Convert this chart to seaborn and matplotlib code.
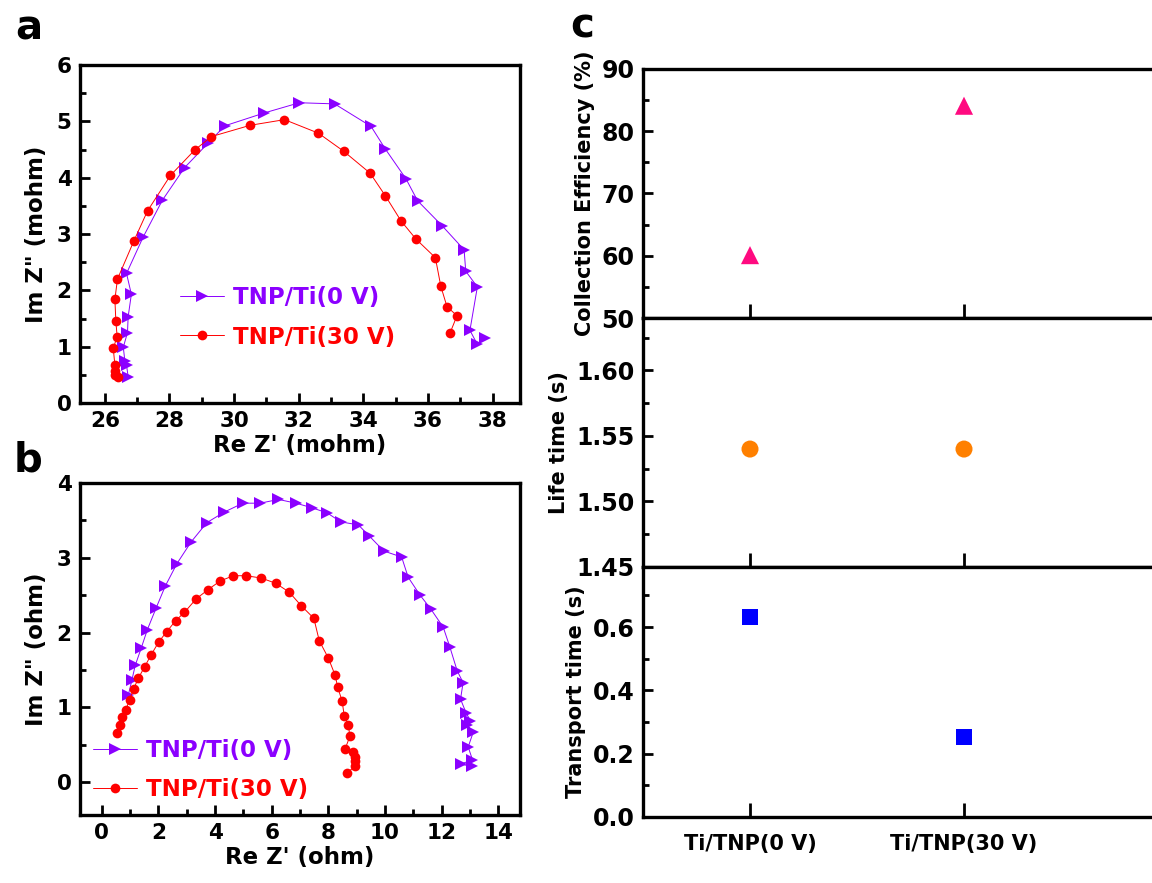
import matplotlib
matplotlib.use("Agg")
import matplotlib.pyplot as plt
from matplotlib.ticker import MultipleLocator, FormatStrFormatter
import seaborn as sns

# ---- data: panel a (mohm) ----
a0_re = [26.72, 26.67, 26.62, 26.57, 26.70, 26.72, 26.82, 26.67, 27.18, 27.78, 28.47, 29.19,
         29.71, 30.94, 32.02, 33.11, 34.24, 34.68, 35.32, 35.68, 36.45, 37.12, 37.17, 37.53,
         37.30, 37.53, 37.77]
a0_im = [0.47, 0.67, 0.74, 0.99, 1.25, 1.53, 1.93, 2.30, 2.94, 3.60, 4.18, 4.61,
         4.92, 5.15, 5.33, 5.31, 4.91, 4.51, 3.98, 3.59, 3.14, 2.72, 2.34, 2.06,
         1.29, 1.04, 1.15]
a30_re = [26.41, 26.31, 26.31, 26.31, 26.26, 26.38, 26.34, 26.31, 26.39, 26.90, 27.32, 28.03,
          28.78, 29.30, 30.50, 31.56, 32.61, 33.39, 34.21, 34.68, 35.17, 35.63, 36.23, 36.40,
          36.59, 36.90, 36.69]
a30_im = [0.47, 0.50, 0.56, 0.67, 0.97, 1.18, 1.45, 1.84, 2.20, 2.88, 3.41, 4.04,
          4.49, 4.73, 4.93, 5.03, 4.79, 4.47, 4.08, 3.68, 3.23, 2.91, 2.58, 2.07,
          1.71, 1.55, 1.25]

# ---- data: panel b (ohm) ----
b0_re = [0.94, 1.06, 1.18, 1.39, 1.61, 1.92, 2.24, 2.65, 3.15, 3.71, 4.32, 4.98, 5.59, 6.24,
         6.86, 7.41, 7.96, 8.44, 9.06, 9.45, 9.96, 10.59, 10.82, 11.24, 11.61, 12.06, 12.29,
         12.55, 12.76, 12.67, 12.86, 13.02, 12.91, 13.12, 12.94, 13.09, 12.68, 13.06]
b0_im = [1.17, 1.36, 1.56, 1.79, 2.04, 2.33, 2.62, 2.92, 3.21, 3.47, 3.61, 3.73, 3.73, 3.78,
         3.73, 3.67, 3.60, 3.48, 3.44, 3.29, 3.09, 3.01, 2.74, 2.50, 2.32, 2.07, 1.81,
         1.49, 1.33, 1.11, 0.93, 0.82, 0.76, 0.67, 0.47, 0.30, 0.24, 0.21]
b30_re = [0.55, 0.65, 0.73, 0.85, 0.98, 1.12, 1.29, 1.51, 1.74, 2.02, 2.29, 2.61, 2.92, 3.33,
          3.74, 4.18, 4.65, 5.09, 5.62, 6.14, 6.62, 7.04, 7.49, 7.68, 8.00, 8.24, 8.33, 8.49,
          8.56, 8.71, 8.76, 8.59, 8.86, 8.96, 8.94, 8.94, 8.65]
b30_im = [0.66, 0.76, 0.87, 0.97, 1.10, 1.24, 1.39, 1.54, 1.70, 1.88, 2.01, 2.16, 2.27, 2.45,
          2.57, 2.69, 2.76, 2.76, 2.73, 2.66, 2.54, 2.36, 2.19, 1.89, 1.66, 1.43, 1.27, 1.08,
          0.89, 0.76, 0.61, 0.44, 0.40, 0.34, 0.28, 0.21, 0.12]

# ---- data: panel c ----
samples = ["Ti/TNP(0 V)", "Ti/TNP(30 V)"]
collection_eff = [60.1, 84.1]
life_time = [1.54, 1.54]
transport_time = [0.631, 0.252]

labels = ["TNP/Ti(0 V)", "TNP/Ti(30 V)"]
purple = "#8B00FF"
red = "#FF0000"

sns.set_style("ticks")
plt.rcParams["font.family"] = ["DejaVu Sans"]
plt.rcParams["font.weight"] = "bold"
plt.rcParams["axes.labelweight"] = "bold"
for key in ["text.color", "axes.labelcolor", "xtick.color", "ytick.color", "axes.edgecolor"]:
    plt.rcParams[key] = "black"

fig = plt.figure(figsize=(11.52, 8.83), dpi=100)
W, H = 1152, 883


def box(l, t, r, b):
    return [l / W, 1 - b / H, (r - l) / W, (b - t) / H]


def style(ax, tick_size=15.5):
    for s in ax.spines.values():
        s.set_linewidth(2.4)
    ax.tick_params(which="major", direction="in", length=7, width=2, labelsize=tick_size,
                   top=False, right=False, pad=6)
    ax.tick_params(which="minor", direction="in", length=4, width=2, top=False, right=False)


def nyquist(ax, x0, y0, x30, y30):
    sns.lineplot(x=x0, y=y0, ax=ax, sort=False, estimator=None, color=purple, lw=0.7,
                 marker=">", markersize=9, markeredgewidth=0, label=labels[0])
    sns.lineplot(x=x30, y=y30, ax=ax, sort=False, estimator=None, color=red, lw=0.7,
                 marker="o", markersize=7, markeredgewidth=0, label=labels[1])


def color_legend(ax, anchor):
    leg = ax.legend(loc="center left", bbox_to_anchor=anchor, frameon=False,
                    fontsize=16.5, handlelength=1.9, handletextpad=0.4, labelspacing=0.7,
                    borderpad=0, borderaxespad=0)
    for t, c in zip(leg.get_texts(), [purple, red]):
        t.set_color(c)


# ---- panel a ----
ax_a = fig.add_axes(box(80, 65, 520, 403))
nyquist(ax_a, a0_re, a0_im, a30_re, a30_im)
ax_a.set_xlim(25.23, 38.85)
ax_a.set_ylim(0, 6)
ax_a.xaxis.set_major_locator(MultipleLocator(2))
ax_a.xaxis.set_minor_locator(MultipleLocator(1))
ax_a.yaxis.set_major_locator(MultipleLocator(1))
ax_a.yaxis.set_minor_locator(MultipleLocator(0.5))
ax_a.set_xlabel("Re Z' (mohm)", fontsize=16.5, labelpad=2)
ax_a.set_ylabel('Im Z" (mohm)', fontsize=16.5, labelpad=6)
style(ax_a)
color_legend(ax_a, (0.228, 0.253))

# ---- panel b ----
ax_b = fig.add_axes(box(80, 483, 520, 815))
nyquist(ax_b, b0_re, b0_im, b30_re, b30_im)
ax_b.set_xlim(-0.77, 14.77)
ax_b.set_ylim(-0.44, 4.0)
ax_b.xaxis.set_major_locator(MultipleLocator(2))
ax_b.xaxis.set_minor_locator(MultipleLocator(1))
ax_b.yaxis.set_major_locator(MultipleLocator(1))
ax_b.yaxis.set_minor_locator(MultipleLocator(0.5))
ax_b.set_xlabel("Re Z' (ohm)", fontsize=16.5, labelpad=2)
ax_b.set_ylabel('Im Z" (ohm)', fontsize=16.5, labelpad=6)
style(ax_b)
color_legend(ax_b, (0.030, 0.135))

# ---- panel c ----
c_top = fig.add_axes(box(643, 69, 1178, 318))
c_mid = fig.add_axes(box(643, 318, 1178, 567), sharex=c_top)
c_bot = fig.add_axes(box(643, 567, 1178, 817), sharex=c_top)

sns.scatterplot(x=samples, y=collection_eff, ax=c_top, marker="^", s=170, color="#FF0A80",
                edgecolor="none")
sns.scatterplot(x=samples, y=life_time, ax=c_mid, marker="o", s=150, color="#FF8000",
                edgecolor="none")
sns.scatterplot(x=samples, y=transport_time, ax=c_bot, marker="s", s=130, color="#0000FF",
                edgecolor="none")

c_top.set_ylim(50, 90)
c_top.yaxis.set_major_locator(MultipleLocator(10))
c_top.yaxis.set_minor_locator(MultipleLocator(5))
c_mid.set_ylim(1.45, 1.64)
c_mid.yaxis.set_major_locator(MultipleLocator(0.05))
c_mid.yaxis.set_minor_locator(MultipleLocator(0.025))
c_mid.yaxis.set_major_formatter(FormatStrFormatter("%.2f"))
c_bot.set_ylim(0, 0.79)
c_bot.yaxis.set_major_locator(MultipleLocator(0.2))
c_bot.yaxis.set_minor_locator(MultipleLocator(0.1))
c_bot.yaxis.set_major_formatter(FormatStrFormatter("%.1f"))
c_top.set_xlim(-0.5, 2.0)

for ax, lab in zip([c_top, c_mid, c_bot],
                   ["Collection Efficiency (%)", "Life time (s)", "Transport time (s)"]):
    style(ax, tick_size=17)
    ax.tick_params(axis="x", which="major", length=10)
    ax.set_ylabel(lab, fontsize=15, labelpad=5)
    ax.set_xlabel("")
for ax in [c_top, c_mid]:
    ax.tick_params(axis="x", labelbottom=False)
c_bot.tick_params(axis="x", labelsize=15, pad=12)

# panel letters
for letter, (px, py) in zip("abc", [(29, 28), (28, 461), (582, 27)]):
    fig.text(px / W, 1 - py / H, letter, fontsize=29, fontweight="bold", ha="center", va="center")

fig.savefig("out.png", dpi=100)
